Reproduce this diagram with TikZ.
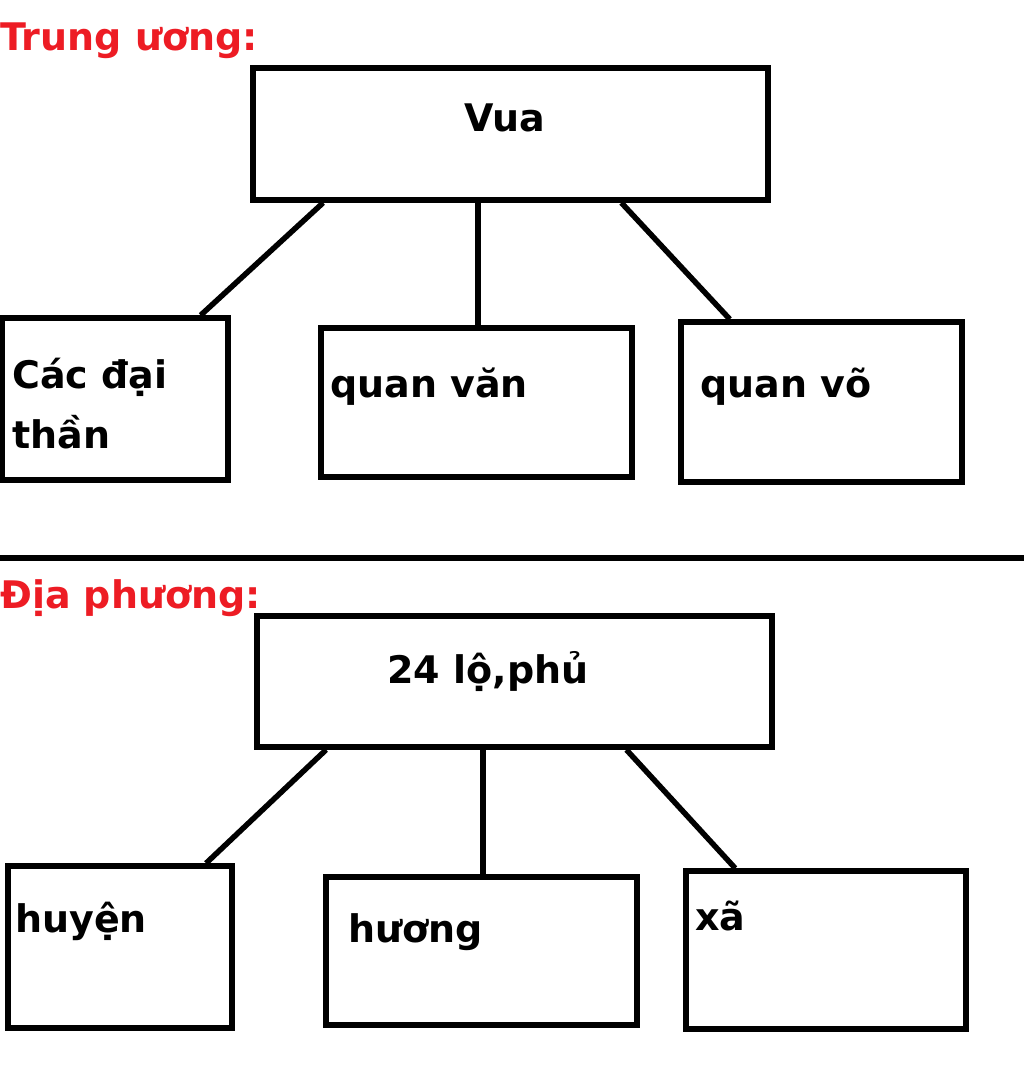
\documentclass[tikz,border=0pt]{standalone}
\usepackage{fontspec}
\setmainfont{DejaVu Sans}
\usetikzlibrary{calc}
\definecolor{hred}{RGB}{237,28,36}
\begin{document}
\begin{tikzpicture}[x=1pt,y=-1pt,
  bx/.style={draw,line width=5.5pt,rectangle,inner sep=0pt},
  ln/.style={line width=5.5pt},
  lbl/.style={font=\bfseries\fontsize{38}{44}\selectfont,inner sep=0pt},
  hd/.style={font=\bfseries\fontsize{38}{44}\selectfont,text=hred,inner sep=0pt,anchor=base west}]
\useasboundingbox (0,0) rectangle (1024,1066);
\newcommand{\bxat}[5]{\node[bx,minimum width=#4-#2,minimum height=#5-#3] (#1) at ({(#2+#4)/2},{(#3+#5)/2}) {};}
\node[hd] (h1) at (0,50) {Trung ương:};
\node[hd] (h2) at (0,608) {Địa phương:};
\bxat{vua}{253}{68}{768}{200}
\bxat{cdt}{2}{318}{228}{480}
\bxat{qv}{321}{328}{632}{477}
\bxat{qvo}{681}{322}{962}{482}
\bxat{lp}{257}{616}{772}{747}
\bxat{hu}{8}{866}{232}{1028}
\bxat{xa}{686}{871}{966}{1029}
\bxat{hg}{326}{877}{637}{1025}
\coordinate (sepL) at (0,558);
\coordinate (sepR) at (1024,558);
\draw[ln] (sepL) -- (sepR);
\node[lbl] (tvua) at (505,118) {Vua};
\node[lbl,anchor=base west] (t1) at (12,388) {Các đại};
\node[lbl,anchor=base west] (t1b) at (12,448) {thần};
\node[lbl,anchor=base west] (t2) at (330,397) {quan văn};
\node[lbl,anchor=base west] (t3) at (700,397) {quan võ};
\node[lbl] (tlp) at (488,672) {24 lộ,phủ};
\node[lbl,anchor=base west] (t4) at (15,932) {huyện};
\node[lbl,anchor=base west] (t5) at (348,942) {hương};
\node[lbl,anchor=base west] (t6) at (695,930) {xã};
\coordinate (vm) at ($(vua.south west)!0.438!(vua.south east)$);
\coordinate (lm) at ($(lp.south west)!0.439!(lp.south east)$);
\draw[ln] ($(vua.south west)!0.14!(vua.south east)$) -- ($(cdt.north west)!0.87!(cdt.north east)$);
\draw[ln] (vm) -- (vm |- qv.north);
\draw[ln] ($(vua.south west)!0.713!(vua.south east)$) -- ($(qvo.north west)!0.18!(qvo.north east)$);
\draw[ln] ($(lp.south west)!0.138!(lp.south east)$) -- ($(hu.north west)!0.875!(hu.north east)$);
\draw[ln] (lm) -- (lm |- hg.north);
\draw[ln] ($(lp.south west)!0.715!(lp.south east)$) -- ($(xa.north west)!0.182!(xa.north east)$);
\end{tikzpicture}
\end{document}
